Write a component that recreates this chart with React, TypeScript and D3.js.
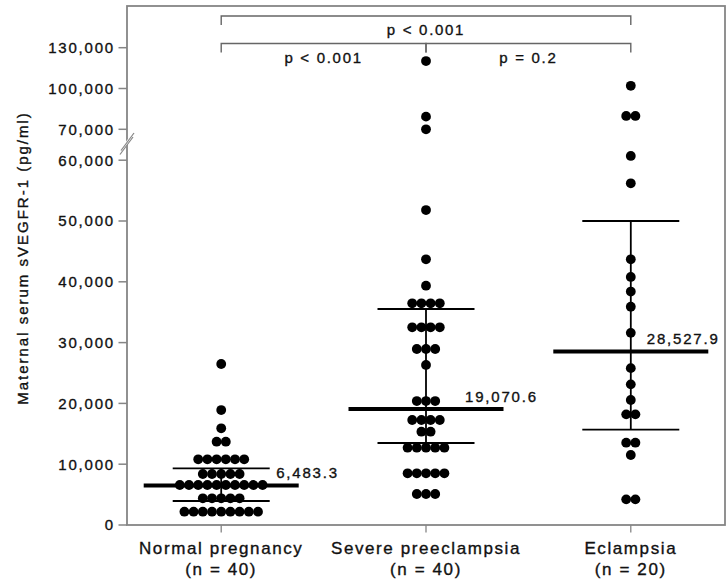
import React from 'react';
import * as d3 from 'd3';

// categories and the n shown under each
const groups = ['Normal pregnancy', 'Severe preeclampsia', 'Eclampsia'];
const groupN = ['(n = 40)', '(n = 40)', '(n = 20)'];

// individual values (pg/ml)
const normalValues = [
  26480, 18910, 15900, 13700, 13700,
  10810, 10810, 10810, 10810, 10810, 10810,
  8390, 8390, 8390, 8390, 8390,
  6580, 6580, 6580, 6580, 6580, 6580, 6580, 6580, 6580, 6580,
  4390, 4390, 4390, 4390, 4390,
  2190, 2190, 2190, 2190, 2190, 2190, 2190, 2190, 2190,
];
const severeValues = [
  120200, 79300, 70000, 51800, 43700, 39360,
  36460, 36460, 36460, 36460,
  32510, 32510, 32510, 32510,
  28950, 28950, 28950, 26320,
  20390, 20390, 20390,
  17270, 17270, 17270, 17270,
  15350, 15350,
  12720, 12720, 12720, 12720, 12720,
  8500, 8500, 8500, 8500, 8500,
  5100, 5100, 5100,
];
const eclampsiaValues = [
  102000, 79800, 79800, 60700, 56200, 43700, 40800, 38400, 35900, 31600,
  25800, 23130, 20560, 18200, 18200, 13540, 13540, 11510, 4220, 4220,
];
const groupValues = [normalValues, severeValues, eclampsiaValues];

// summary line (value printed) and the two whiskers
const centerValues = [6483.3, 19070.6, 28527.9];
const upperValues = [9326, 35525, 50000];
const lowerValues = [3947, 13490, 15690];

// axis ticks on each side of the break
const lowTicks = [0, 10000, 20000, 30000, 40000, 50000, 60000];
const highTicks = [70000, 100000, 130000];

// comparisons drawn above the dots: [from, to, label]
const comparisons: [number, number, string][] = [
  [0, 2, 'p < 0.001'],
  [0, 1, 'p < 0.001'],
  [1, 2, 'p = 0.2'],
];

const W = 726;
const H = 582;
const left = 127;
const right = 725;
const top = 6;
const bottom = 525;

const font = 'Liberation Sans, Arial, Helvetica, sans-serif';
const axisGray = '#858585';
const ink = '#111';
const labelDx = [55, 39, 16];

// shared text look: slightly heavier strokes like the source
const txt = { fontFamily: font, fill: ink, stroke: ink, strokeWidth: 0.35 };

const App = () => {
  const x = d3.scalePoint<string>().domain(groups).range([left, right]).padding(0.46);
  const yLow = d3.scaleLinear().domain([0, 60000]).range([bottom, 160.2]);
  const yHigh = d3.scaleLinear().domain([70000, 130000]).range([129.3, 47.7]);
  const y = (v: number) => (v < 65000 ? yLow(v) : yHigh(v));
  const fmt = d3.format(',');
  const fmtCenter = d3.format(',.1f');

  const dotR = 4.9;
  const step = 9.2;

  const dots: { cx: number; cy: number }[] = [];
  groupValues.forEach((vals, gi) => {
    const rows = d3.groups(vals, (v) => v);
    rows.forEach(([v, arr]) => {
      const n = arr.length;
      arr.forEach((_, i) => {
        dots.push({ cx: x(groups[gi])! + (i - (n - 1) / 2) * step, cy: y(v) });
      });
    });
  });

  const bracketY = [16, 43.5, 43.5];
  const bracketLabelY = [35, 63, 63];

  return (
    <svg width={W} height={H} style={{ position: 'absolute', left: 0, top: 0, background: '#fff' }}>
      <rect x={0} y={0} width={W} height={H} fill="#fff" />

      {/* frame */}
      <rect x={left} y={top} width={right - left} height={bottom - top} fill="none" stroke={axisGray} strokeWidth={1.8} />

      {/* y ticks */}
      {[...lowTicks.map((t) => ({ t, py: yLow(t) })), ...highTicks.map((t) => ({ t, py: yHigh(t) }))].map(({ t, py }) => (
        <g key={t}>
          <line x1={left - 8.5} x2={left} y1={py} y2={py} stroke={axisGray} strokeWidth={1.5} />
          <text x={left - 12} y={py + 5.3} textAnchor="end" fontSize={15} letterSpacing={1.8} {...txt}>
            {fmt(t)}
          </text>
        </g>
      ))}

      {/* axis break */}
      <polygon points={`${left - 7},${150} ${left + 6},${132} ${left + 6},${137} ${left - 7},${155}`} fill="#fff" />
      <line x1={left - 6} y1={150.5} x2={left + 7} y2={133} stroke={axisGray} strokeWidth={1.2} />
      <line x1={left - 7} y1={154.5} x2={left + 6} y2={137} stroke={axisGray} strokeWidth={1.2} />

      {/* y label */}
      <text transform={`translate(28,${258}) rotate(-90)`} textAnchor="middle" fontSize={15} letterSpacing={2} {...txt}>
        Maternal serum sVEGFR-1 (pg/ml)
      </text>

      {/* x ticks and labels */}
      {groups.map((g, i) => (
        <g key={g}>
          <line x1={x(g)} x2={x(g)} y1={bottom} y2={bottom + 7.5} stroke={axisGray} strokeWidth={1.3} />
          <text x={x(g)} y={553.5} textAnchor="middle" fontSize={17} letterSpacing={1.6} {...txt}>
            {g}
          </text>
          <text x={x(g)} y={575} textAnchor="middle" fontSize={17} letterSpacing={1.6} {...txt}>
            {groupN[i]}
          </text>
        </g>
      ))}

      {/* brackets */}
      {comparisons.map(([a, b, label], i) => {
        const xa = x(groups[a])!;
        const xb = x(groups[b])!;
        const by = bracketY[i];
        return (
          <g key={i}>
            <path d={`M${xa},${by + 9}V${by}H${xb}V${by + 9}`} fill="none" stroke="#666" strokeWidth={1.4} />
            <text x={(xa + xb) / 2} y={bracketLabelY[i]} textAnchor="middle" fontSize={15} letterSpacing={1.7} {...txt}>
              {label}
            </text>
          </g>
        );
      })}

      {/* dots */}
      {dots.map((d, i) => (
        <circle key={i} cx={d.cx} cy={d.cy} r={dotR} fill="#000" />
      ))}

      {/* summary lines */}
      {groups.map((g, i) => {
        const cx = x(g)!;
        return (
          <g key={g}>
            <line x1={cx} x2={cx} y1={y(upperValues[i])} y2={y(lowerValues[i])} stroke="#000" strokeWidth={1.8} />
            <line x1={cx - 48.5} x2={cx + 48.5} y1={y(upperValues[i])} y2={y(upperValues[i])} stroke="#000" strokeWidth={1.8} />
            <line x1={cx - 48.5} x2={cx + 48.5} y1={y(lowerValues[i])} y2={y(lowerValues[i])} stroke="#000" strokeWidth={1.8} />
            <line x1={cx - 77.5} x2={cx + 77.5} y1={y(centerValues[i])} y2={y(centerValues[i])} stroke="#000" strokeWidth={4} />
            <text x={cx + labelDx[i]} y={y(centerValues[i]) - 7.5} fontSize={15} letterSpacing={1.8} {...txt}>
              {fmtCenter(centerValues[i])}
            </text>
          </g>
        );
      })}
    </svg>
  );
};

export default App;
